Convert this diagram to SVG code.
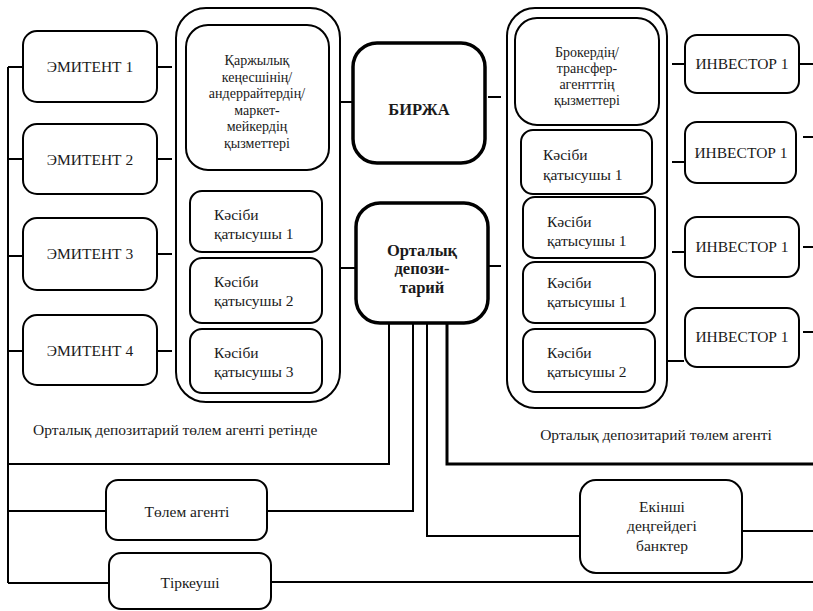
<svg xmlns="http://www.w3.org/2000/svg" width="813" height="611" viewBox="0 0 813 611" font-family="Liberation Serif, Times New Roman, serif" font-size="15.5">
<style>
.b{fill:#fff;stroke:#000;stroke-width:2}
.k{fill:#fff;stroke:#000;stroke-width:3.5}
.c{fill:none;stroke:#000;stroke-width:2}
text{fill:#1a1a1a}
.m{text-anchor:middle}
.s{font-size:14px}
.bd{font-weight:bold;font-size:16.5px}
</style>
<rect width="813" height="611" fill="#fff"/>
<g id="connectors">
<path class="c" d="M8 67V583M8 67H23M8 159H23M8 256H23M8 351H23"/>
<path class="c" d="M157 67H172M157 159H172M157 254H172M157 351H172"/>
<path class="c" d="M339 102H353M339 268H356"/>
<path class="c" d="M488 97H501M488 266H501"/>
<path class="c" d="M672 64H685M672 162H685M672 252H685M668 361H684"/>
<path class="c" d="M799 64H813M803 137H813M803 247H813M803 332H813"/>
<path class="c" d="M8 464H389V323"/>
<path fill="none" stroke="#000" stroke-width="3" d="M447 323V464H813"/>
<path class="c" d="M8 511H106M267 511H413V323"/>
<path class="c" d="M427 323V536H580M742 531H813"/>
<path class="c" d="M8 583H110M270 582H813"/>
</g>
<g id="left-container"><rect class="b" x="176" y="8" width="164" height="394" rx="30"/></g>
<g id="right-container"><rect class="b" x="507" y="8" width="160" height="400" rx="28"/></g>
<g id="emitent1"><rect class="b" x="23" y="31" width="134" height="71" rx="14"/><text class="m" x="90" y="72">ЭМИТЕНТ 1</text></g>
<g id="emitent2"><rect class="b" x="23" y="124" width="134" height="70" rx="14"/><text class="m" x="90" y="165">ЭМИТЕНТ 2</text></g>
<g id="emitent3"><rect class="b" x="23" y="218" width="134" height="72" rx="14"/><text class="m" x="90" y="259">ЭМИТЕНТ 3</text></g>
<g id="emitent4"><rect class="b" x="23" y="315" width="134" height="70" rx="14"/><text class="m" x="90" y="356">ЭМИТЕНТ 4</text></g>
<g id="karzhy"><rect class="b" x="186" y="25" width="143" height="145" rx="22"/>
<text class="m s" x="257"><tspan x="257" y="65">Қаржылық</tspan><tspan x="257" y="81.5">кеңесшінің/</tspan><tspan x="257" y="98">андеррайтердің/</tspan><tspan x="257" y="114.5">маркет-</tspan><tspan x="257" y="131">мейкердің</tspan><tspan x="257" y="147.5">қызметтері</tspan></text></g>
<g id="lk1"><rect class="b" x="190" y="191" width="132" height="61" rx="12"/><text><tspan x="214" y="220">Кәсіби</tspan><tspan x="214" y="239">қатысушы 1</tspan></text></g>
<g id="lk2"><rect class="b" x="190" y="258" width="132" height="65" rx="12"/><text><tspan x="214" y="287">Кәсіби</tspan><tspan x="214" y="306">қатысушы 2</tspan></text></g>
<g id="lk3"><rect class="b" x="190" y="329" width="132" height="64" rx="12"/><text><tspan x="214" y="358">Кәсіби</tspan><tspan x="214" y="377">қатысушы 3</tspan></text></g>
<g id="birzha"><rect class="k" x="353" y="43" width="132" height="120" rx="24"/><text class="m bd" x="419" y="115">БИРЖА</text></g>
<g id="ortalyk"><rect class="k" x="356" y="203" width="132" height="120" rx="24"/><text class="m bd"><tspan x="422" y="256">Орталық</tspan><tspan x="422" y="274">депози-</tspan><tspan x="422" y="293">тарий</tspan></text></g>
<g id="broker"><rect class="b" x="515" y="18" width="144" height="107" rx="22"/>
<text class="m s"><tspan x="587" y="57">Брокердің/</tspan><tspan x="587" y="73">трансфер-</tspan><tspan x="587" y="89">агентттің</tspan><tspan x="587" y="105">қызметтері</tspan></text></g>
<g id="rk1"><rect class="b" x="521" y="130" width="131" height="64" rx="12"/><text><tspan x="543" y="160">Кәсіби</tspan><tspan x="543" y="180">қатысушы 1</tspan></text></g>
<g id="rk2"><rect class="b" x="523" y="197" width="132" height="61" rx="12"/><text><tspan x="547" y="227">Кәсіби</tspan><tspan x="547" y="246">қатысушы 1</tspan></text></g>
<g id="rk3"><rect class="b" x="523" y="262" width="132" height="61" rx="12"/><text><tspan x="547" y="288">Кәсіби</tspan><tspan x="547" y="307">қатысушы 1</tspan></text></g>
<g id="rk4"><rect class="b" x="523" y="329" width="132" height="63" rx="12"/><text><tspan x="547" y="358">Кәсіби</tspan><tspan x="547" y="377">қатысушы 2</tspan></text></g>
<g id="inv1"><rect class="b" x="685" y="35" width="114" height="58" rx="12"/><text class="m" x="742" y="69">ИНВЕСТОР 1</text></g>
<g id="inv2"><rect class="b" x="685" y="122" width="111" height="61" rx="12"/><text class="m" x="741" y="158">ИНВЕСТОР 1</text></g>
<g id="inv3"><rect class="b" x="685" y="217" width="114" height="60" rx="12"/><text class="m" x="742" y="252">ИНВЕСТОР 1</text></g>
<g id="inv4"><rect class="b" x="685" y="308" width="114" height="59" rx="12"/><text class="m" x="742" y="342">ИНВЕСТОР 1</text></g>
<g id="label-left"><text x="33" y="435">Орталық депозитарий төлем агенті ретінде</text></g>
<g id="label-right"><text class="m" x="656" y="440">Орталық депозитарий төлем агенті</text></g>
<g id="tolem"><rect class="b" x="106" y="480" width="161" height="60" rx="12"/><text class="m" x="187" y="517">Төлем агенті</text></g>
<g id="ekinshi"><rect class="b" x="580" y="480" width="162" height="93" rx="16"/><text class="m"><tspan x="662" y="512">Екінші</tspan><tspan x="662" y="531">деңгейдегі</tspan><tspan x="662" y="551">банктер</tspan></text></g>
<g id="tirkeushi"><rect class="b" x="109" y="553" width="162" height="56" rx="12"/><text class="m" x="190" y="588">Тіркеуші</text></g>
</svg>
